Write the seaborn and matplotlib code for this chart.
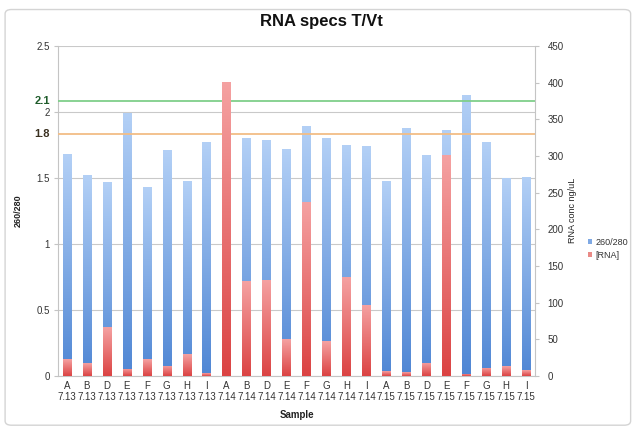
import numpy as np
import pandas as pd
import matplotlib
matplotlib.use("Agg")
import matplotlib.pyplot as plt
import seaborn as sns
from matplotlib.colors import LinearSegmentedColormap
from matplotlib.patches import FancyBboxPatch, Patch
from matplotlib.ticker import FuncFormatter, MultipleLocator, FixedLocator

# ---------------- data ----------------
letters = ["A", "B", "D", "E", "F", "G", "H", "I",
           "A", "B", "D", "E", "F", "G", "H", "I",
           "A", "B", "D", "E", "F", "G", "H", "I"]
dates = ["7.13", "7.13", "7.13", "7.13", "7.13", "7.13", "7.13", "7.13",
         "7.14", "7.14", "7.14", "7.14", "7.14", "7.14", "7.14", "7.14",
         "7.15", "7.15", "7.15", "7.15", "7.15", "7.15", "7.15", "7.15"]
ratio_260_280 = [1.68, 1.52, 1.47, 1.99, 1.43, 1.71, 1.48, 1.77,
                 1.90, 1.80, 1.79, 1.72, 1.89, 1.80, 1.75, 1.74,
                 1.48, 1.88, 1.67, 1.86, 2.13, 1.77, 1.50, 1.51]
rna_conc = [23, 17, 66, 10, 23, 14, 30, 4,
            401, 129, 131, 50, 237, 47, 135, 97,
            6, 5, 18, 301, 3, 11, 13, 8]
ref_lines = [2.08, 1.83]
ref_labels = ["2.1", "1.8"]

labels = [f"{l}\n{d}" for l, d in zip(letters, dates)]
df = pd.DataFrame({"Sample": labels, "ratio": ratio_260_280, "rna": rna_conc})

# ---------------- style ----------------
sns.set_style("white")
plt.rcParams["font.family"] = ["Liberation Sans", "DejaVu Sans"]

fig = plt.figure(figsize=(6.37, 4.33), dpi=100)
ax = fig.add_axes([0.091, 0.132, 0.749, 0.762])

# outer chart frame
frame = FancyBboxPatch((0.008, 0.018), 0.982, 0.96, boxstyle="round,pad=0,rounding_size=0.01",
                       transform=fig.transFigure, facecolor="none", edgecolor="#d4d4d4",
                       linewidth=1.0, zorder=-10)
fig.patches.append(frame)

blue_mid = "#6f9fe0"
red_mid = "#e86a6a"

sns.barplot(data=df, x="Sample", y="ratio", ax=ax, color=blue_mid, width=0.42,
            order=labels, errorbar=None, saturation=1, zorder=2)
ax2 = ax.twinx()
sns.barplot(data=df, x="Sample", y="rna", ax=ax2, color=red_mid, width=0.42,
            order=labels, errorbar=None, saturation=1, zorder=2)


def gradient_bars(a, top_color, bottom_color):
    cmap = LinearSegmentedColormap.from_list("g", [bottom_color, top_color])
    grad = np.linspace(0, 1, 256).reshape(-1, 1)
    for p in list(a.patches):
        x0, y0 = p.get_x(), p.get_y()
        w, h = p.get_width(), p.get_height()
        if h <= 0:
            continue
        p.set_edgecolor("none")
        im = a.imshow(grad, extent=[x0, x0 + w, y0, y0 + h], origin="lower",
                      cmap=cmap, aspect="auto", zorder=p.get_zorder() + 0.1,
                      interpolation="bicubic")
        im.set_clip_path(p)


gradient_bars(ax, "#b3d0f6", "#4f86d4")
gradient_bars(ax2, "#f5a2a2", "#db4343")

ax.set_xlim(-0.45, 23.45)
ax2.set_xlim(-0.45, 23.45)
ax.set_ylim(0, 2.5)
ax2.set_ylim(0, 450)

# grid & reference lines
ax.yaxis.set_major_locator(MultipleLocator(0.5))
ax.grid(axis="y", color="#c9c9c9", linewidth=0.8, zorder=0)
ax.set_axisbelow(True)
ref_colors = ["#7fcf8a", "#f2bd86"]
for val, col in zip(ref_lines, ref_colors):
    ax.axhline(val, color=col, linewidth=1.3, zorder=3)

label_styles = [dict(color="#1e5b2a"), dict(color="#3a3020")]
for val, lab, st in zip(ref_lines, ref_labels, label_styles):
    ax.annotate(lab, xy=(0, val), xycoords=("axes fraction", "data"),
                xytext=(-6, 0), textcoords="offset points", ha="right", va="center",
                fontsize=8, fontweight="bold", **st)

ax.yaxis.set_major_formatter(FuncFormatter(lambda v, p: f"{v:g}"))
ax2.yaxis.set_major_locator(MultipleLocator(50))

for a in (ax, ax2):
    for s in a.spines.values():
        s.set_visible(False)
ax.spines["left"].set_visible(True)
ax.spines["left"].set_color("#c4c4c4")
ax.spines["bottom"].set_visible(True)
ax.spines["bottom"].set_color("#c4c4c4")
ax2.spines["right"].set_visible(True)
ax2.spines["right"].set_color("#c4c4c4")

ax.tick_params(axis="y", labelsize=7, colors="#333333", length=3, color="#c4c4c4", pad=3)
ax2.tick_params(axis="y", labelsize=7, colors="#333333", length=3, color="#c4c4c4", pad=6)
ax.tick_params(axis="x", labelsize=7, colors="#333333", length=0, pad=4)
ax.xaxis.set_minor_locator(FixedLocator(np.arange(-0.5, 24, 1.0)))
ax.tick_params(axis="x", which="minor", length=2, color="#c4c4c4")
for t in ax.get_xticklabels():
    t.set_linespacing(1.05)

ax.set_xlabel("Sample", fontsize=7, fontweight="bold", color="#222222", labelpad=6)
ax.set_ylabel("260/280", fontsize=6.5, fontweight="bold", color="#222222", labelpad=10)
ax2.set_ylabel("RNA conc ng/uL", fontsize=6.5, color="#222222", labelpad=3)

fig.suptitle("RNA specs T/Vt", x=0.505, y=0.968, fontsize=12, fontweight="bold", color="#111111")

handles = [Patch(facecolor="#7fa9e4", edgecolor="none"),
           Patch(facecolor="#e98a86", edgecolor="none")]
fig.legend(handles, ["260/280", "[RNA]"], loc="upper left", bbox_to_anchor=(0.913, 0.465),
           frameon=False, fontsize=6.5, handlelength=0.5, handleheight=0.5,
           handletextpad=0.3, labelspacing=0.4, labelcolor="#333333", borderpad=0.2)

fig.savefig("out.png", dpi=100)
